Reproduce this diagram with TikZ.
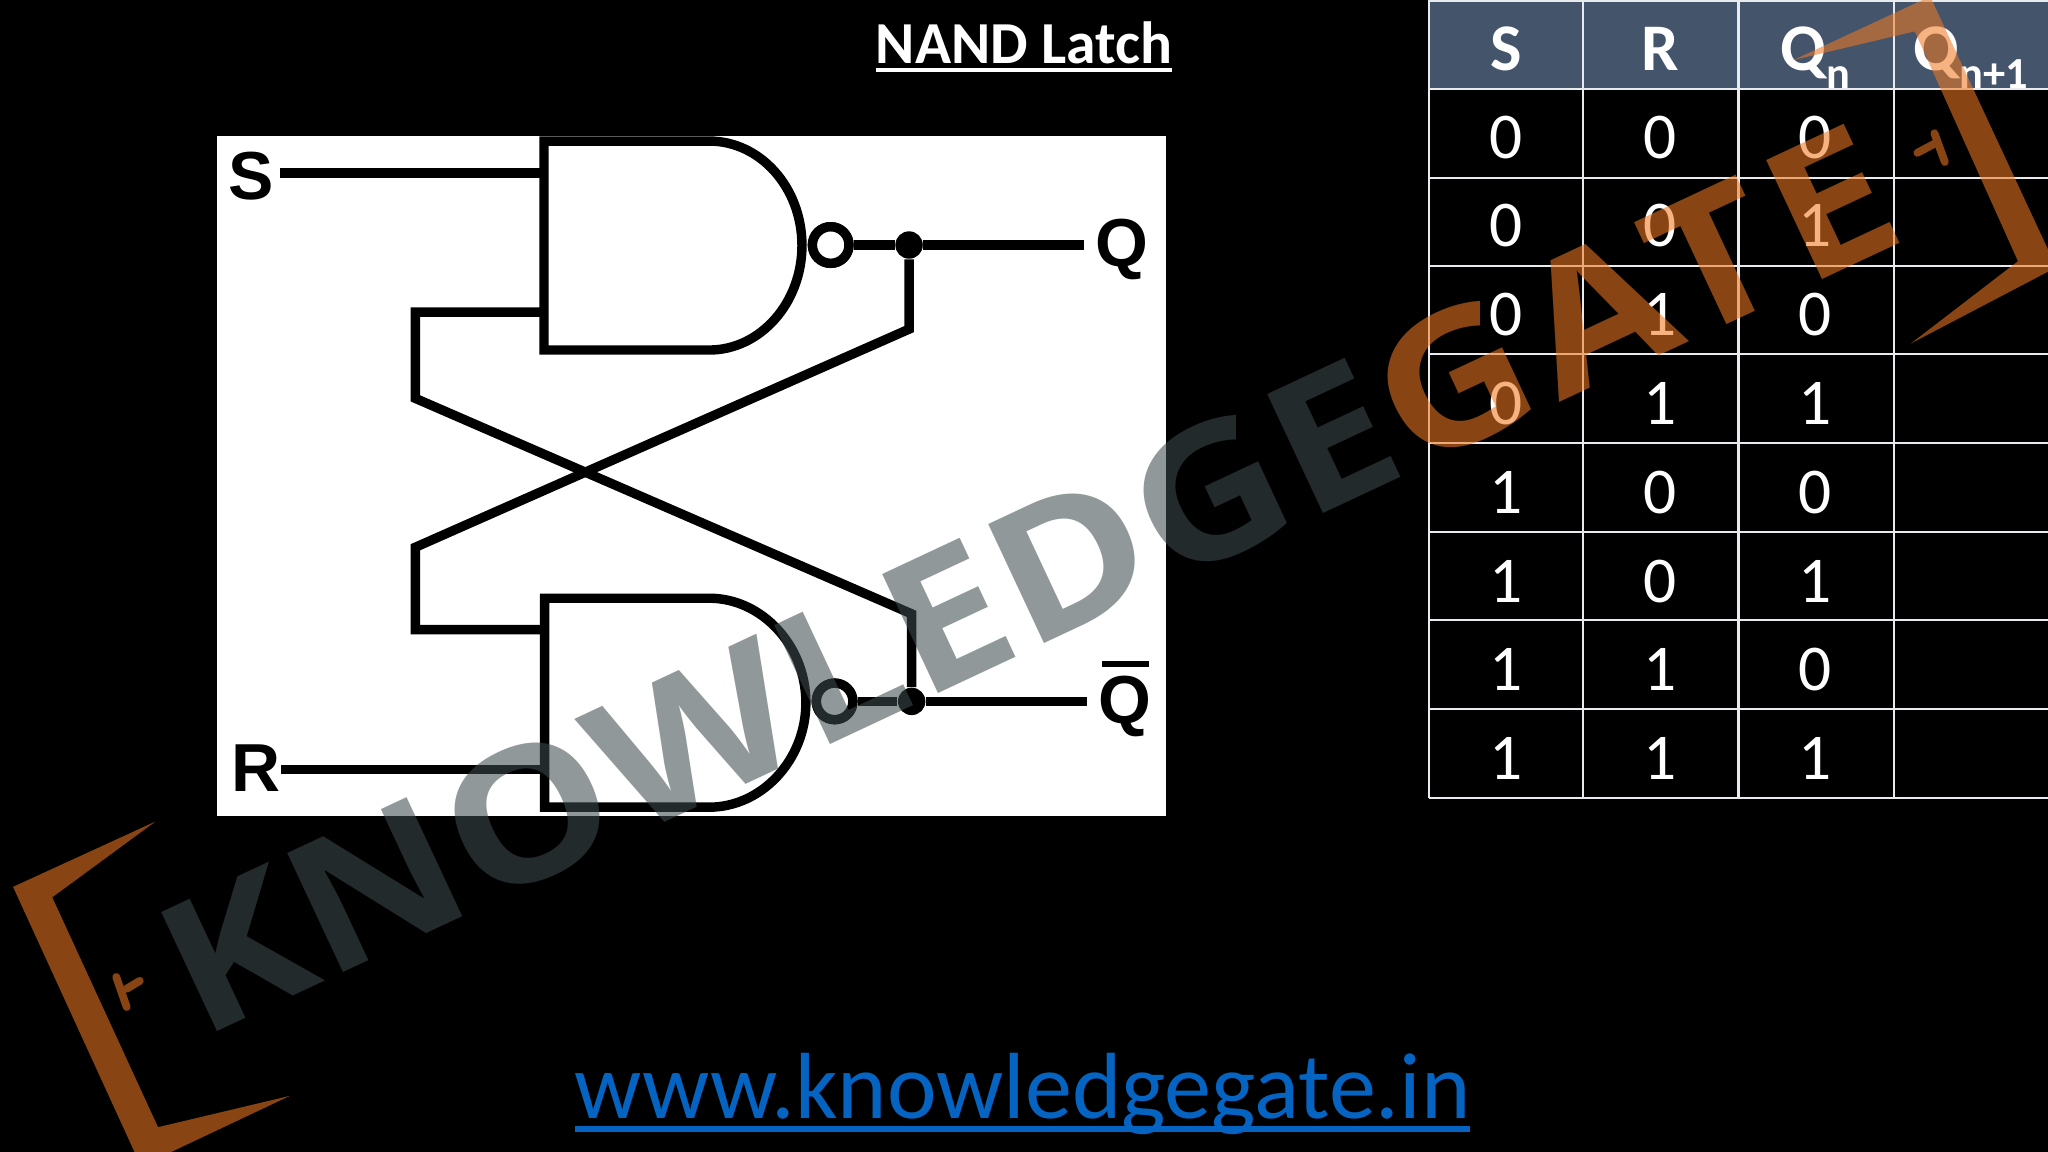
\documentclass[tikz,border=0pt]{standalone}
\usepackage{fontspec}
\setmainfont{Carlito}
\newfontfamily\arialf{Liberation Sans}
\newfontfamily\wmf[FakeStretch=1.13,LetterSpace=0.7]{Open Sans}
\newfontfamily\wmg[FakeStretch=1.13,LetterSpace=6]{Open Sans}
\newcommand{\ulbox}[3]{\setbox0=\hbox{#3}\leavevmode\rlap{\rule[#1]{\wd0}{#2}}\box0}
\definecolor{hdr}{HTML}{44546A}
\definecolor{wmgrey}{HTML}{3D4A4D}
\definecolor{wmorange}{HTML}{F07A22}
\definecolor{urlblue}{HTML}{0563C1}
\tikzset{
  wire/.style={line width=3.6pt,line join=miter,line cap=butt,black},
  bubble/.style={circle,draw=black,line width=3.6pt,fill=white,minimum size=14pt,inner sep=0pt},
  junction/.style={circle,fill=black,minimum size=10.5pt,inner sep=0pt},
  pinlabel/.style={anchor=base,inner sep=0pt,text=black,font=\arialf\bfseries\fontsize{26}{30}\selectfont},
  grid line/.style={line width=0.8pt,draw=white!88!hdr},
  headtext/.style={anchor=base,inner sep=0pt,text=white,font=\bfseries\fontsize{25.5}{30}\selectfont},
  celltext/.style={anchor=base,inner sep=0pt,text=white,font=\fontsize{25}{30}\selectfont},
  wmgreytext/.style={anchor=base west,inner sep=0pt,rotate=25.1,text=wmgrey,text opacity=.57,font=\wmf\bfseries\fontsize{70.5}{80}\selectfont},
  wmorangetext/.style={anchor=base west,inner sep=0pt,rotate=25.1,text=wmorange,text opacity=.57,font=\wmg\bfseries\fontsize{70.5}{80}\selectfont},
  bracket/.style={fill=wmorange,fill opacity=.57,draw=none},
  tick/.style={draw=wmorange,draw opacity=.57,line width=3pt,line cap=round},
}
\begin{document}
\begin{tikzpicture}[x=0.5pt,y=-0.5pt]
\useasboundingbox (0,0) rectangle (1568,882);
\clip (0,0) rectangle (1568,882);
\fill[black] (0,0) rectangle (1568,882);
% circuit panel
\fill[white] (166,104) rectangle (893,625);
% gates
\draw[wire] (543,108) -- (416.5,108) -- (416.5,268) -- (543,268)
  .. controls (582,268) and (614,232) .. (614,188)
  .. controls (614,143.5) and (582,108) .. (543,108);
\draw[wire] (543,458) -- (417,458) -- (417,618) -- (543,618)
  .. controls (583,618) and (617,582) .. (617,538)
  .. controls (617,494) and (583,458) .. (543,458);
\coordinate (g1a) at (414,132.5);
\coordinate (g1b) at (414,239);
\coordinate (g2a) at (414,482);
\coordinate (g2b) at (414,589);
\node[bubble] (b1) at (636,187.6) {};
\node[bubble] (b2) at (639,537) {};
\node[junction] (j1) at (696,187.6) {};
\node[junction] (j2) at (698,537) {};
\node[pinlabel] (s) at (192,153) {S};
\node[pinlabel] (r) at (196,606) {R};
\node[pinlabel] (q) at (859,204) {Q};
\node[pinlabel] (qb) at (861,554) {Q};
\coordinate (qe) at (830,187.6);
\coordinate (qbe) at (832,537);
\coordinate (se) at (214,132.5);
\coordinate (re) at (215,589);
\draw[wire] (se) -- (g1a);
\draw[wire] (re) -- (g2b);
\draw[wire] (b1) -- (j1) -- (qe);
\draw[wire] (b2) -- (j2) -- (qbe);
\node[bubble] at (b1) {};
\node[bubble] at (b2) {};
\draw[wire] (j1) -- (696,252) -- (318,419) -- (318,482) -- (g2a);
\draw[wire] (g1b) -- (318,239) -- (318,305) -- (698,470) -- (j2);
\draw[line width=2.2pt,black] (844,508.5) -- (880,508.5);
% table
\fill[hdr] (1094,0) rectangle (1568,68);
\foreach \x in {1094,1212,1331,1450} \draw[grid line] (\x,0) -- (\x,611);
\foreach \y in {1,68,136,204,271,339,407,475,543,611} \draw[grid line] (1094,\y) -- (1568,\y);
\node[headtext] (hs) at (1153,54) {S};
\node[headtext] (hr) at (1271,54) {R};
\node[headtext] (hq) at (1390,54) {Q\raisebox{-7pt}{\fontsize{17}{20}\selectfont n}};
\node[headtext] (hqq) at (1509,54) {Q\raisebox{-7pt}{\fontsize{17}{20}\selectfont n+1}};
\foreach \a/\b/\c [count=\i from 0] in {0/0/0,0/0/1,0/1/0,0/1/1,1/0/0,1/0/1,1/1/0,1/1/1}{
  \pgfmathsetmacro{\yy}{121+68*\i}
  \node[celltext] (sc\i) at (1153,\yy) {\a};
  \node[celltext] (rc\i) at (1271,\yy) {\b};
  \node[celltext] (qc\i) at (1390,\yy) {\c};
}
% title and URL
\node[anchor=base,inner sep=0pt,text=white,font=\bfseries\fontsize{22.8}{26}\selectfont] (title) at (784,49) {\ulbox{-3pt}{1.4pt}{NAND Latch}};
\node[anchor=base,inner sep=0pt,text=urlblue,font=\fontsize{36}{42}\selectfont] (url) at (783,856) {\ulbox{-5.5pt}{2.4pt}{www.knowledgegate.in}};
% watermark
\node[wmgreytext] (wk) at (153,796) {KNOWLEDGE};
\node[wmorangetext] (wg) at (wk.base east) {GATE};
\fill[bracket] (119,629) -- (10,679) -- (103,882) -- (131,882) -- (222,839) -- (121,863) -- (40,687) -- cycle;
\fill[bracket] (1373,46) -- (1472,0) -- (1479,0) -- (1568,191) -- (1568,208) -- (1463,263) -- (1545,200) -- (1466,24) -- cycle;
\draw[tick] (89,748) -- (97,771) (97,757) -- (107,751);
\draw[tick] (1481,102) -- (1489,124) (1468,117) -- (1483,109);
\end{tikzpicture}
\end{document}
